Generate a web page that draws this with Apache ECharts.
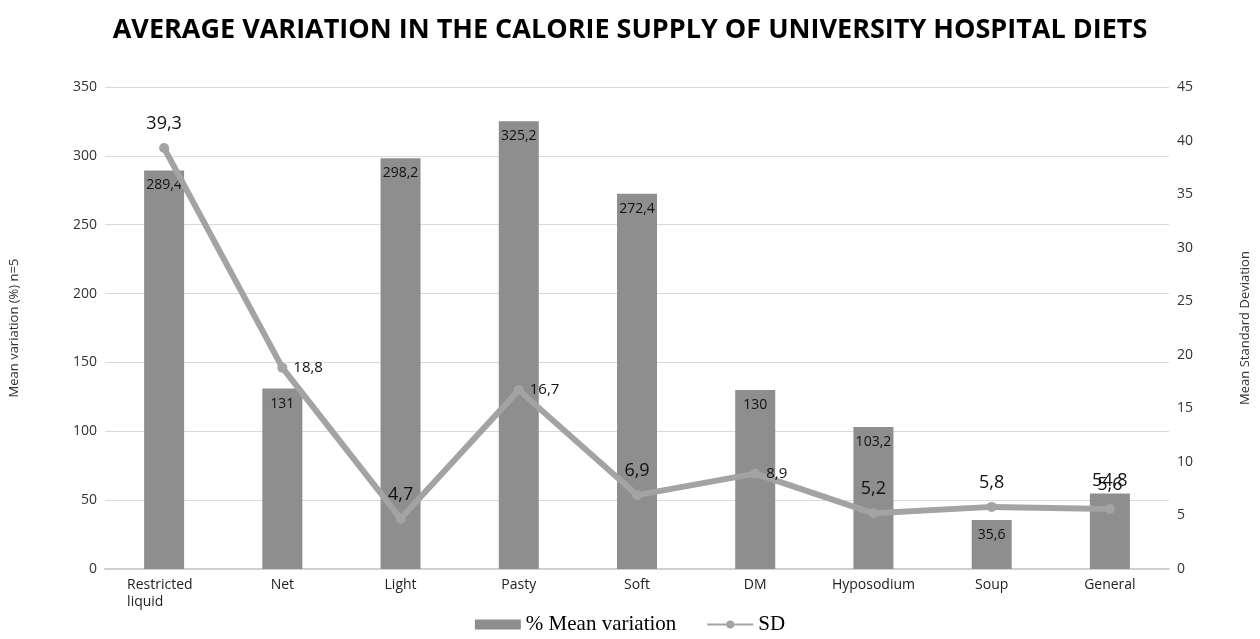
<!DOCTYPE html>
<html><head><meta charset="utf-8">
<script src="https://cdn.jsdelivr.net/npm/echarts@6/dist/echarts.min.js"></script>
<style>html,body{margin:0;padding:0;background:#fff}#c{width:1260px;height:639px}</style>
</head><body><div id="c"></div>
<script>
const categories = ['Restricted\nliquid','Net','Light','Pasty','Soft','DM','Hyposodium','Soup','General'];
const meanVariation = [289.4, 131, 298.2, 325.2, 272.4, 130, 103.2, 35.6, 54.8];
const sdValues = [39.3, 18.8, 4.7, 16.7, 6.9, 8.9, 5.2, 5.8, 5.6];
const sdLabelSide = ['top','right','top','right','top','right','top','top','top'];
const barLabelSide = ['insideTop','insideTop','insideTop','insideTop','insideTop','insideTop','insideTop','insideTop','top'];

const fmt = v => String(v).replace('.', ',');
const F = '"Open Sans", "Noto Sans", sans-serif';

const barData = meanVariation.map((v, i) => ({
  value: v,
  label: barLabelSide[i] === 'top'
    ? { position: 'top', distance: 4, fontSize: 18 }
    : { position: 'insideTop', distance: 8 }
}));
const lineData = sdValues.map((v, i) => ({
  value: v,
  label: sdLabelSide[i] === 'right'
    ? { position: 'right', fontSize: 15, distance: 6 }
    : { position: 'top', fontSize: 18, distance: 10 }
}));

const chart = echarts.init(document.getElementById('c'), null, {renderer: 'canvas'});
chart.setOption({
  animation: false,
  backgroundColor: '#fff',
  title: {
    text: 'AVERAGE VARIATION IN THE CALORIE SUPPLY OF UNIVERSITY HOSPITAL DIETS',
    left: 'center', top: 12,
    textStyle: { fontFamily: F, fontWeight: 'bold', fontSize: 27, color: '#000' }
  },
  legend: {
    bottom: -1, left: 'center',
    itemWidth: 46, itemHeight: 10, itemGap: 30,
    textStyle: { fontFamily: '"Liberation Serif", "DejaVu Serif", serif', fontSize: 21, color: '#000' },
    data: [
      { name: '% Mean variation', icon: 'rect' },
      { name: 'SD' }
    ]
  },
  grid: { left: 104, right: 87, top: 87, bottom: 70 },
  xAxis: {
    type: 'category',
    data: categories,
    axisLine: { lineStyle: { color: '#d0d0d0', width: 2 } },
    axisTick: { show: false },
    axisLabel: {
      fontFamily: F, fontSize: 14, color: '#222', margin: 8, lineHeight: 17,
      formatter: function (v) {
        if (v.indexOf('\n') >= 0) {
          return v.split('\n').map(s => '{l|' + s + '}').join('\n');
        }
        return v;
      },
      rich: { l: { width: 74, align: 'left', fontFamily: F, fontSize: 14, color: '#222', lineHeight: 17 } }
    }
  },
  yAxis: [
    {
      type: 'value', min: 0, max: 350, interval: 50,
      name: 'Mean variation (%) n=5', nameLocation: 'middle', nameGap: 84, nameRotate: 90,
      nameTextStyle: { fontFamily: F, fontSize: 13, color: '#333' },
      axisLine: { show: false }, axisTick: { show: false },
      axisLabel: { fontFamily: F, fontSize: 14, color: '#333', margin: 8 },
      splitLine: { lineStyle: { color: '#d9d9d9', width: 1 } }
    },
    {
      type: 'value', min: 0, max: 45, interval: 5,
      name: 'Mean Standard Deviation', nameLocation: 'middle', nameGap: 70, nameRotate: 90,
      nameTextStyle: { fontFamily: F, fontSize: 13, color: '#333' },
      axisLine: { show: false }, axisTick: { show: false },
      axisLabel: { fontFamily: F, fontSize: 14, color: '#333', margin: 8 },
      splitLine: { show: false }
    }
  ],
  series: [
    {
      name: '% Mean variation', type: 'bar', yAxisIndex: 0,
      data: barData, barWidth: 40,
      itemStyle: { color: '#8e8e8e' },
      label: { show: true, fontFamily: F, fontSize: 14, color: '#111', formatter: p => fmt(p.value) }
    },
    {
      name: 'SD', type: 'line', yAxisIndex: 1,
      data: lineData,
      symbol: 'circle', symbolSize: 10,
      lineStyle: { color: '#a3a3a3', width: 6 },
      itemStyle: { color: '#a3a3a3' },
      label: { show: true, fontFamily: F, color: '#111', formatter: p => fmt(p.value) },
      z: 3
    }
  ]
});
</script></body></html>
